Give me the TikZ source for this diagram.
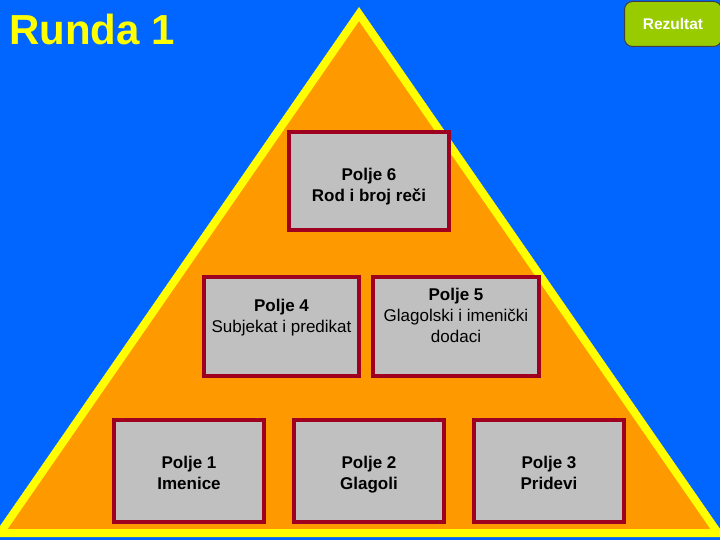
\documentclass[tikz,border=0pt]{standalone}
\usepackage{fontspec}
\setmainfont{Liberation Sans}
\usetikzlibrary{positioning}

\definecolor{pozadina}{RGB}{0,102,255}
\definecolor{piramida}{RGB}{255,153,0}
\definecolor{ivica}{RGB}{255,255,0}
\definecolor{poljesivo}{RGB}{192,192,192}
\definecolor{poljecrveno}{RGB}{160,0,32}
\definecolor{dugme}{RGB}{153,204,0}

\begin{document}
\begin{tikzpicture}[x=1pt, y=-1pt,
    polje/.style={draw=poljecrveno, line width=4pt, fill=poljesivo, align=center,
        font=\fontsize{17}{21}\selectfont, text height=36pt, text depth=0pt}]

    \useasboundingbox (0,0) rectangle (720,540);
    \fill[pozadina] (0,0) rectangle (720,540);

    % Piramida
    \filldraw[fill=piramida, draw=ivica, line width=8pt, line join=miter]
        (359,14) -- (718,533) -- (0,533) -- cycle;

    % Naslov i dugme
    \node (runda) [anchor=base west, inner sep=0pt, text=ivica,
        font=\fontsize{42}{46}\selectfont\bfseries] at (9,45) {Runda 1};
    \node (rezultat) [draw=black!75, line width=1pt, fill=dugme, rounded corners=8pt,
        minimum width=97pt, minimum height=45pt, text=white,
        font=\fontsize{15.5}{18}\selectfont\bfseries] at (673,24) {Rezultat};

    % Polje 6
    \node (polje6) [polje, minimum width=160pt, minimum height=98pt, text height=41.4pt]
        at (369,181) {\bfseries Polje 6\\\bfseries Rod i broj reči};

    % Polje 4 i Polje 5
    \node (polje4) [polje, minimum width=155pt, minimum height=99pt, text height=12.4pt]
        at (281.5,326.5) {\bfseries Polje 4\\Subjekat i predikat};
    \node (polje5) [polje, minimum width=166pt, minimum height=99pt, text height=31.6pt,
        right=10pt of polje4] {\bfseries Polje 5\\Glagolski i imenički\\dodaci};

    % Polje 1, 2 i 3
    \node (polje2) [polje, minimum width=150pt, minimum height=102pt]
        at (369,471) {\bfseries Polje 2\\\bfseries Glagoli};
    \node (polje1) [polje, minimum width=150pt, minimum height=102pt,
        left=26pt of polje2] {\bfseries Polje 1\\\bfseries Imenice};
    \node (polje3) [polje, minimum width=150pt, minimum height=102pt,
        right=26pt of polje2] {\bfseries Polje 3\\\bfseries Pridevi};

\end{tikzpicture}
\end{document}
